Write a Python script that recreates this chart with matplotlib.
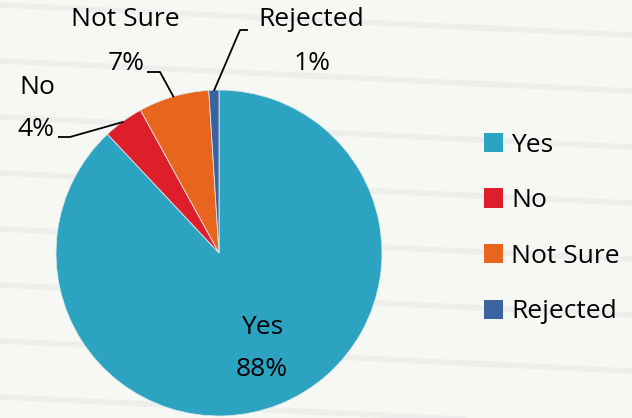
import matplotlib
matplotlib.use("Agg")
import matplotlib.pyplot as plt
import matplotlib.patches as mpatches
import numpy as np

plt.rcParams['font.family'] = ['Open Sans', 'DejaVu Sans']

labels = ["Yes", "No", "Not Sure", "Rejected"]
values = [88, 4, 7, 1]
colors = ["#2ca3c0", "#dc1f2a", "#e8651e", "#3a63a0"]

W, H = 632, 418
cx, cy, R = 219, 253, 163

fig = plt.figure(figsize=(W / 100, H / 100), dpi=100)
fig.patch.set_facecolor("#f6f8f4")

# faint siding stripes in the background
bg = fig.add_axes([0, 0, 1, 1], zorder=-1)
bg.set_xlim(0, W)
bg.set_ylim(H, 0)
bg.axis("off")
for yy in range(5, H, 56):
    bg.plot([0, W], [yy, yy + 30], color="#e9ece8", lw=4, alpha=0.7)

ax = fig.add_axes([(cx - R) / W, (H - cy - R) / H, 2 * R / W, 2 * R / H])
wedges, _ = ax.pie(values, colors=colors, startangle=90, counterclock=False,
                   radius=1, wedgeprops=dict(linewidth=0.6, edgecolor="#dfe8ea"))
ax.set_xlim(-1, 1)
ax.set_ylim(-1, 1)
ax.set_aspect("equal")
ax.axis("off")

fs = 19


def px(x, y):
    return (x - cx) / R, (cy - y) / R


# inside label for the big slice
ax.text(*px(262, 328), "Yes", ha="center", va="center", fontsize=fs)
ax.text(*px(262, 370), "88%", ha="center", va="center", fontsize=fs)

# outside labels: name pos, pct pos, elbow, line end
outside = {
    "No": (px(37, 87), px(36, 130), px(70, 137), px(58, 137)),
    "Not Sure": (px(125, 20), px(126, 63), px(160, 72), px(147, 72)),
    "Rejected": (px(311, 20), px(312, 64), px(240, 30), px(248, 30)),
}
for w, lab, v in zip(wedges, labels, values):
    if lab not in outside:
        continue
    npos, ppos, elbow, end = outside[lab]
    ang = np.deg2rad((w.theta1 + w.theta2) / 2)
    ex, ey = 0.995 * np.cos(ang), 0.995 * np.sin(ang)
    ax.plot([ex, elbow[0], end[0]], [ey, elbow[1], end[1]], color="black",
            lw=1.3, clip_on=False, solid_capstyle="butt")
    ax.text(*npos, lab, ha="center", va="center", fontsize=fs)
    ax.text(*ppos, f"{v}%", ha="center", va="center", fontsize=fs)

handles = [mpatches.Patch(facecolor=c, label=l) for c, l in zip(colors, labels)]
fig.legend(handles=handles, loc="upper left", bbox_to_anchor=(473 / W, 1 - 122 / H),
           frameon=False, fontsize=fs, handlelength=0.75, handleheight=0.75,
           handletextpad=0.3, labelspacing=1.16, borderaxespad=0)

fig.savefig("out.png", dpi=100, facecolor=fig.get_facecolor())
